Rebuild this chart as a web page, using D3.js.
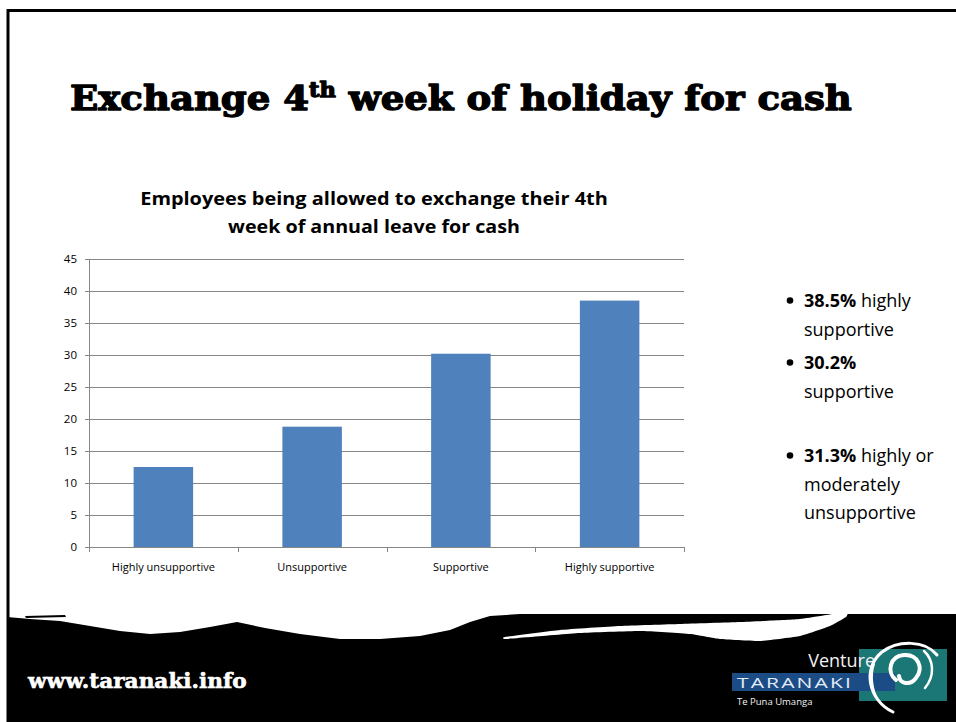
<!DOCTYPE html>
<html>
<head>
<meta charset="utf-8">
<script src="https://cdn.jsdelivr.net/npm/d3@7/dist/d3.min.js"></script>
<style>
  body { margin: 0; background: #fff; }
  svg { display: block; }
</style>
</head>
<body>
<div id="slide"></div>
<script>
// chart data
const categories = ["Highly unsupportive", "Unsupportive", "Supportive", "Highly supportive"];
const values = [12.5, 18.8, 30.2, 38.5];
const yTicks = [0, 5, 10, 15, 20, 25, 30, 35, 40, 45];
const chartTitle = ["Employees being allowed to exchange their 4th", "week of annual leave for cash"];
const chartTitleWidths = [468, 292];

// bullet text on the right: [bold part, normal part] per line
const bullets = [
  [["38.5%", " highly"], ["", "supportive"]],
  [["30.2%", ""], ["", "supportive"]],
  [["31.3%", " highly or"], ["", "moderately"], ["", "unsupportive"]]
];
const bulletTops = [307, 369, 462];

const W = 956, H = 722;
const sans = "'Open Sans', Lato, sans-serif";
const slab = "'DejaVu Serif', serif";

const svg = d3.select("#slide").append("svg")
  .attr("width", W)
  .attr("height", H);

svg.append("rect").attr("width", W).attr("height", H).attr("fill", "#fff");

// slide frame
svg.append("rect")
  .attr("x", 8).attr("y", 10.5)
  .attr("width", W + 10).attr("height", H)
  .attr("fill", "none")
  .attr("stroke", "#000")
  .attr("stroke-width", 3);

// fit a text element to a given width by horizontal scaling about x
function fitWidth(sel, x, width) {
  const w = sel.node().getBBox().width;
  const s = width / w;
  sel.attr("transform", `translate(${x},0) scale(${s},1) translate(${-x},0)`);
}

// slide title
const title = svg.append("text")
  .attr("x", 70).attr("y", 110)
  .attr("font-family", slab)
  .attr("font-weight", "bold")
  .attr("font-size", 33)
  .attr("fill", "#000")
  .attr("stroke", "#000")
  .attr("stroke-width", 1.3)
  .attr("stroke-linejoin", "round");
title.append("tspan").text("Exchange 4");
title.append("tspan").attr("font-size", 20).attr("dy", -13).text("th");
title.append("tspan").attr("dy", 13).text(" week of holiday for cash");
fitWidth(title, 70, 782);

// ---- bar chart ----
const margin = { top: 259, left: 89 };
const width = 595, height = 288;

const g = svg.append("g")
  .attr("transform", `translate(${margin.left},${margin.top})`);

const x = d3.scaleBand()
  .domain(categories)
  .range([0, width])
  .paddingInner(0.6)
  .paddingOuter(0.3);

const y = d3.scaleLinear()
  .domain([0, 45])
  .range([height, 0]);

const gridColor = "#868686";

// gridlines + y axis
const yAxis = g.append("g")
  .call(d3.axisLeft(y).tickValues(yTicks).tickSize(4).tickPadding(8));
yAxis.select(".domain").attr("stroke", gridColor);
yAxis.selectAll(".tick line").attr("stroke", gridColor);
yAxis.selectAll(".tick text")
  .attr("font-family", sans)
  .attr("font-size", 11.5)
  .attr("fill", "#000");

g.append("g")
  .selectAll("line")
  .data(yTicks.filter(d => d > 0))
  .join("line")
  .attr("x1", 0).attr("x2", width)
  .attr("y1", d => Math.round(y(d)) + 0.5)
  .attr("y2", d => Math.round(y(d)) + 0.5)
  .attr("stroke", gridColor)
  .attr("stroke-width", 1);

// bars
g.append("g")
  .selectAll("rect")
  .data(values)
  .join("rect")
  .attr("x", (d, i) => x(categories[i]))
  .attr("width", x.bandwidth())
  .attr("y", d => y(d))
  .attr("height", d => y(0) - y(d))
  .attr("fill", "#4F81BD");

// x axis with ticks at category boundaries
const xAxis = g.append("g")
  .attr("transform", `translate(0,${height})`)
  .call(d3.axisBottom(x).tickSize(0).tickPadding(16));
xAxis.select(".domain").attr("stroke", gridColor);
xAxis.selectAll(".tick text")
  .attr("font-family", sans)
  .attr("font-size", 11)
  .attr("fill", "#000");

const step = x.step();
g.append("g")
  .selectAll("line")
  .data(d3.range(categories.length + 1))
  .join("line")
  .attr("x1", i => Math.round(i * step) + 0.5)
  .attr("x2", i => Math.round(i * step) + 0.5)
  .attr("y1", height)
  .attr("y2", height + 5)
  .attr("stroke", gridColor);

// chart title
chartTitle.forEach((line, i) => {
  const t = svg.append("text")
    .attr("x", 374)
    .attr("y", 205 + i * 28)
    .attr("text-anchor", "middle")
    .attr("font-family", sans)
    .attr("font-weight", "bold")
    .attr("font-size", 18)
    .attr("fill", "#000")
    .text(line);
  fitWidth(t, 374, chartTitleWidths[i]);
});

// ---- bullet text ----
bullets.forEach((lines, bi) => {
  const top = bulletTops[bi];
  svg.append("circle")
    .attr("cx", 790).attr("cy", top - 6.5)
    .attr("r", 3.3)
    .attr("fill", "#000");
  lines.forEach((ln, li) => {
    const t = svg.append("text")
      .attr("x", 804)
      .attr("y", top + li * 28.5)
      .attr("font-family", sans)
      .attr("font-size", 18)
      .attr("fill", "#000");
    if (ln[0]) t.append("tspan").attr("font-weight", "bold").text(ln[0]);
    t.append("tspan").text(ln[1]);
  });
});

// ---- footer band ----
const band = [
  [7, 617], [30, 619], [60, 621], [90, 626], [120, 631], [150, 634], [180, 632],
  [210, 627], [237, 622], [265, 628], [300, 634], [340, 639], [380, 639],
  [420, 636], [450, 630], [470, 622], [490, 616], [520, 614], [W, 614],
  [W, H], [7, H]
];
svg.append("path")
  .attr("d", d3.line().curve(d3.curveLinearClosed)(band))
  .attr("fill", "#000");

svg.append("path")
  .attr("d", "M25,616 L65,615 L66,617 L26,618 Z")
  .attr("fill", "#000");

const stroke = [
  [505, 637], [560, 630], [620, 626], [680, 624], [740, 622], [800, 619], [846, 612],
  [846, 617], [830, 626], [800, 636], [760, 641], [720, 639], [690, 634],
  [640, 631], [580, 633], [530, 637], [505, 639]
];
svg.append("path")
  .attr("d", d3.line().curve(d3.curveCardinalClosed.tension(0.6))(stroke))
  .attr("fill", "#fff");

// web address
const url = svg.append("text")
  .attr("x", 28).attr("y", 688)
  .attr("font-family", slab)
  .attr("font-weight", "bold")
  .attr("font-size", 21)
  .attr("fill", "#fff")
  .attr("stroke", "#fff")
  .attr("stroke-width", 0.6)
  .text("www.taranaki.info");
fitWidth(url, 28, 220);

// logo
const logo = svg.append("g");
logo.append("rect")
  .attr("x", 859).attr("y", 649).attr("width", 88).attr("height", 52)
  .attr("fill", "#1b7676");
logo.append("rect")
  .attr("x", 732).attr("y", 673).attr("width", 163).attr("height", 18)
  .attr("fill", "#1b4c86");
logo.append("text")
  .attr("x", 875).attr("y", 667)
  .attr("text-anchor", "end")
  .attr("font-family", "'Open Sans', sans-serif")
  .attr("font-size", 18)
  .attr("fill", "#f2f2f2")
  .text("Venture");
const tar = logo.append("text")
  .attr("x", 737).attr("y", 688)
  .attr("font-family", "'Open Sans', sans-serif")
  .attr("font-size", 15)
  .attr("letter-spacing", 1.5)
  .attr("fill", "#e4ecf6")
  .text("TARANAKI");
fitWidth(tar, 737, 116);
logo.append("text")
  .attr("x", 737).attr("y", 705)
  .attr("font-family", "'Open Sans', sans-serif")
  .attr("font-size", 9.5)
  .attr("fill", "#f2f2f2")
  .text("Te Puna Umanga");

// swirl
const swirl = logo.append("g")
  .attr("fill", "none")
  .attr("stroke", "#fff")
  .attr("stroke-linecap", "round");
swirl.append("path")
  .attr("d", "M893,712 C868,700 862,668 882,652 C898,640 925,640 937,655")
  .attr("stroke-width", 3);
swirl.append("path")
  .attr("d", "M896,680 C886,672 890,656 904,655 C918,654 924,668 916,678 C910,686 900,684 899,676")
  .attr("stroke-width", 4);
swirl.append("path")
  .attr("d", "M925,688 C935,676 934,660 924,651")
  .attr("stroke-width", 2.5);
swirl.append("path")
  .attr("d", "M878,700 C872,690 870,676 874,664")
  .attr("stroke-width", 2);
</script>
</body>
</html>
